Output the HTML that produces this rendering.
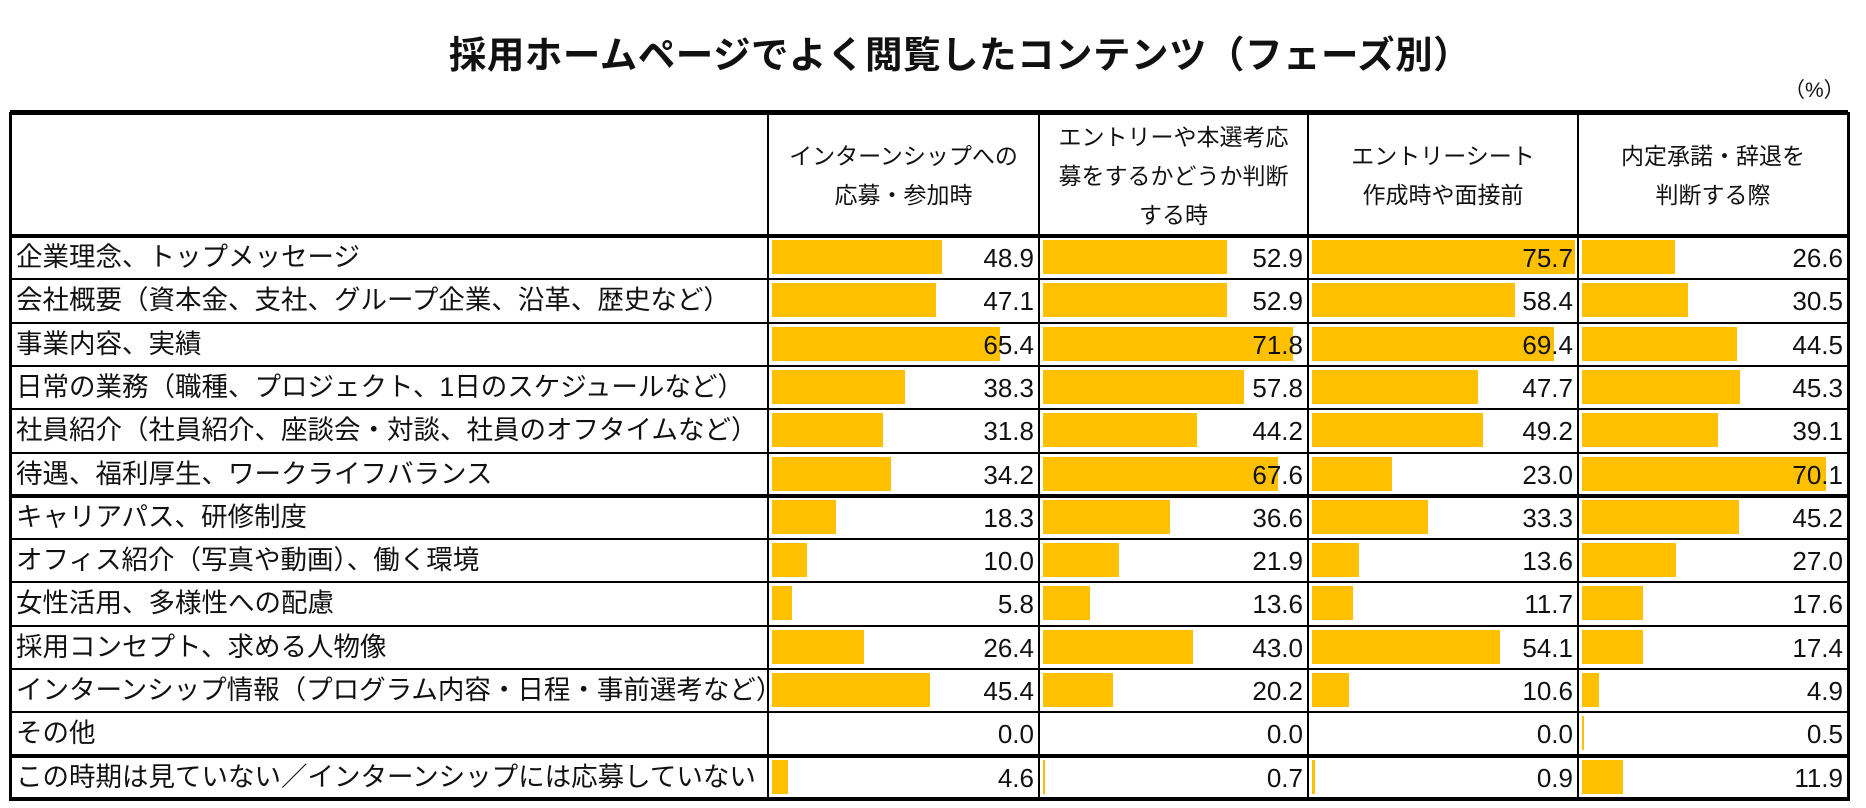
<!DOCTYPE html>
<html><head><meta charset="utf-8">
<style>
body{margin:0;width:1866px;height:808px;background:#fff;position:relative;overflow:hidden;font-family:"Liberation Sans","Noto Sans CJK JP",sans-serif;color:#111}
#title{position:absolute;left:27px;width:1866px;top:24px;text-align:center;font-size:37.5px;font-weight:bold;letter-spacing:0.5px}
#unit{position:absolute;left:1784px;top:74px;font-size:21px}
.hl{position:absolute;background:#000}
.lbl{position:absolute;font-size:26.5px;white-space:nowrap;line-height:43px}
.num{position:absolute;font-size:26px;text-align:right;line-height:43px}
.bar{position:absolute;background:#FFC000}
.hdr{position:absolute;font-size:23px;text-align:center;line-height:39px}
</style></head>
<body>
<div id="title">採用ホームページでよく閲覧したコンテンツ（フェーズ別）</div>
<div id="unit">（%）</div>
<div id="table"></div>
<script>
const categories=["企業理念、トップメッセージ","会社概要（資本金、支社、グループ企業、沿革、歴史など）","事業内容、実績","日常の業務（職種、プロジェクト、1日のスケジュールなど）","社員紹介（社員紹介、座談会・対談、社員のオフタイムなど）","待遇、福利厚生、ワークライフバランス","キャリアパス、研修制度","オフィス紹介（写真や動画）、働く環境","女性活用、多様性への配慮","採用コンセプト、求める人物像","インターンシップ情報（プログラム内容・日程・事前選考など）","その他","この時期は見ていない／インターンシップには応募していない"];
const headers=[["インターンシップへの","応募・参加時"],["エントリーや本選考応","募をするかどうか判断","する時"],["エントリーシート","作成時や面接前"],["内定承諾・辞退を","判断する際"]];
const s1=[48.9,47.1,65.4,38.3,31.8,34.2,18.3,10.0,5.8,26.4,45.4,0.0,4.6];
const s2=[52.9,52.9,71.8,57.8,44.2,67.6,36.6,21.9,13.6,43.0,20.2,0.0,0.7];
const s3=[75.7,58.4,69.4,47.7,49.2,23.0,33.3,13.6,11.7,54.1,10.6,0.0,0.9];
const s4=[26.6,30.5,44.5,45.3,39.1,70.1,45.2,27.0,17.6,17.4,4.9,0.5,11.9];
const series=[s1,s2,s3,s4];
const T=document.getElementById('table');
const L=10,R=1848,tableTop=112,hb=236,rh=43.3;
const colX=[768,1039,1308,1578,1848];
const xs=v=>v*3.48;
function add(cls,css,txt){const e=document.createElement('div');e.className=cls;Object.assign(e.style,css);if(txt!=null)e.textContent=txt;T.appendChild(e);return e;}
headers.forEach((h,i)=>{
  const e=add('hdr',{left:colX[i]+'px',width:(colX[i+1]-colX[i])+'px',top:(tableTop+(124-h.length*39)/2+2)+'px'});
  e.innerHTML=h.join('<br>');
  
  
});
categories.forEach((c,r)=>{
  const y=hb+r*rh;
  const l=add('lbl',{left:'16px',top:y+'px'},c);
  
  
  series.forEach((s,i)=>{
    const v=s[r];
    if(v>0){
      const b=add('bar',{left:(colX[i]+4)+'px',top:(y+4)+'px',width:Math.max(2,xs(v))+'px',height:'34px'});
      
      
    }
    const n=add('num',{left:colX[i]+'px',width:(colX[i+1]-colX[i]-5)+'px',top:(y+1)+'px'},v.toFixed(1));
    
    
  });
});
const thick=[0,6,12,13];
for(let r=0;r<=13;r++){
  const y=hb+r*rh;const w=thick.includes(r)?4:2;
  const e=add('hl',{left:L+'px',top:(y-w/2)+'px',width:(R-L)+'px',height:w+'px'});
  
  
}
const t=add('hl',{left:L+'px',top:(tableTop-2)+'px',width:(R-L)+'px',height:'5px'});


[L,...colX].forEach((x,i)=>{
  const w=(i==0||i==5)?3:2;
  const e=add('hl',{left:(x-1)+'px',top:tableTop+'px',width:w+'px',height:(hb+13*rh-tableTop+2)+'px'});
  
  
});
</script>
</body></html>
